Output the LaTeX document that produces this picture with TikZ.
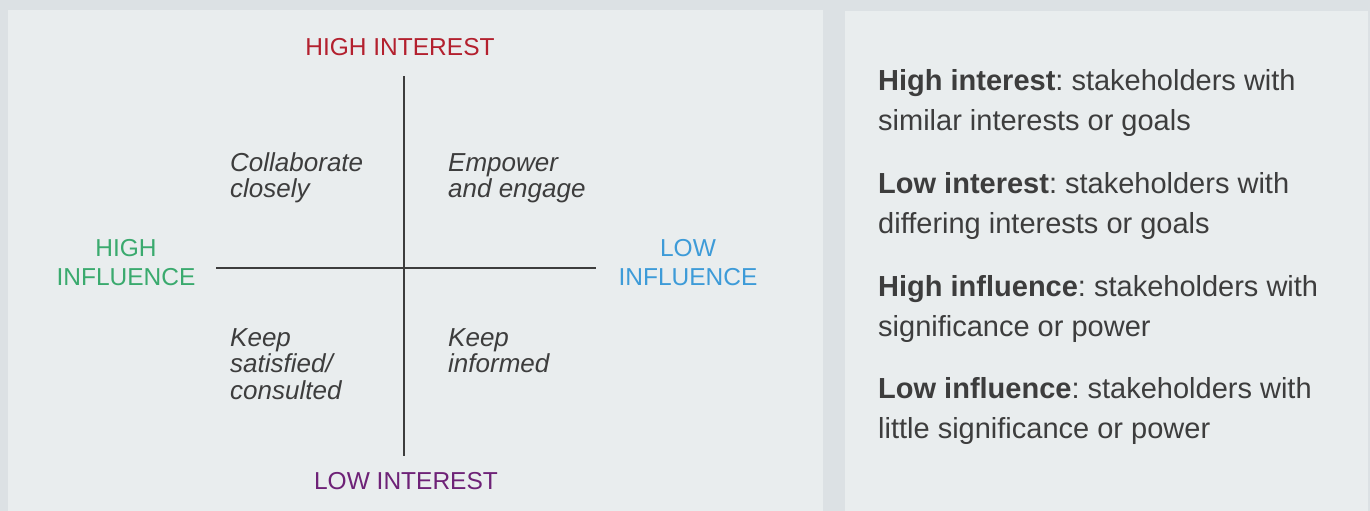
\documentclass[tikz,border=0pt]{standalone}
\usepackage{fontspec}
\setmainfont{Liberation Sans}
\usetikzlibrary{positioning}
\definecolor{outerbg}{HTML}{DCE1E4}
\definecolor{panelbg}{HTML}{E9EDEE}
\definecolor{inktext}{HTML}{3D3D3D}
\definecolor{hiint}{HTML}{B3202E}
\definecolor{loint}{HTML}{6E2277}
\definecolor{hiinf}{HTML}{3AAA6E}
\definecolor{loinf}{HTML}{3D9BD8}
\frenchspacing

\begin{document}
\begin{tikzpicture}[x=1pt,y=-1pt,
                    axis label/.style={inner sep=0pt,align=center,font=\fontsize{24.5}{29}\selectfont},
                    quad label/.style={inner sep=0pt,anchor=base west,align=left,text=inktext,
                                       font=\fontsize{26}{26.5}\selectfont\itshape},
                    note/.style={inner sep=0pt,anchor=base west,align=left,text=inktext,
                                 font=\fontsize{29}{40}\selectfont},
                    axis line/.style={draw=inktext,line width=2pt}
                   ]
  \useasboundingbox (0,0) rectangle (1370,511);
  \fill[outerbg] (0,0) rectangle (1370,511);
  \fill[panelbg] (8,10) rectangle (823,511);
  \fill[panelbg] (845,11) rectangle (1368,511);

  % axis ends
  \coordinate (top) at (404,76);
  \coordinate (bottom) at (404,456);
  \coordinate (left) at (216,268);
  \coordinate (right) at (596,268);

  % base anchor sits on the last line
  \node[axis label,text=hiint,anchor=base] (hiinterest) at (400,56) {HIGH INTEREST};
  \node[axis label,text=loint,anchor=base] (lointerest) at (406,489) {LOW INTEREST};
  \node[axis label,text=hiinf,anchor=base] (hiinfluence) at (126,285) {HIGH\\INFLUENCE};
  \node[axis label,text=loinf,anchor=base] (loinfluence) at (688,285) {LOW\\INFLUENCE};

  \node[quad label] (collab) at (230,197.5) {Collaborate\\closely};
  \node[quad label] (empower) at (448,197.5) {Empower\\and engage};
  \node[quad label] (satisfied) at (230,399) {Keep\\satisfied/\\consulted};
  \node[quad label] (informed) at (448,372.5) {Keep\\informed};

  \path[axis line]
    (top) edge (bottom)
    (left) edge (right);

  % key on the right
  \node[note] (keyhi) at (878,130) {\textbf{High interest}: stakeholders with\\similar interests or goals};
  \node[note] (keylo) at (878,233) {\textbf{Low interest}: stakeholders with\\differing interests or goals};
  \node[note] (keyhinf) at (878,336) {\textbf{High influence}: stakeholders with\\significance or power};
  \node[note] (keyloinf) at (878,438) {\textbf{Low influence}: stakeholders with\\little significance or power};
\end{tikzpicture}
\end{document}
